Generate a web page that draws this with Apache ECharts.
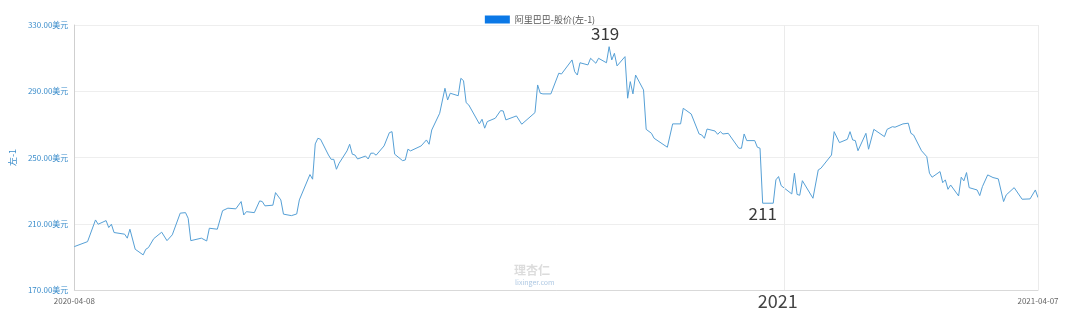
<!DOCTYPE html>
<html>
<head>
<meta charset="utf-8">
<script src="https://cdn.jsdelivr.net/npm/echarts@6/dist/echarts.min.js"></script>
<style>
  html, body { margin: 0; padding: 0; background: #fff; }
  #chart { width: 1080px; height: 323px; }
</style>
</head>
<body>
<div id="chart"></div>
<script>
// ---- data ----
const seriesName = '阿里巴巴-股价(左-1)';
const axisName = '左-1';
const unit = '美元';
const yTicks = [170, 210, 250, 290, 330];
const xStart = '2020-04-08';
const xEnd = '2021-04-07';
const yearMark = '2021-01-01';
const yearLabel = '2021';
const peakNote = '319';
const peakDate = '2020-10-27';
const lowNote = '211';
const lowDate = '2020-12-24';

const dates = [
  '2020-04-08','2020-04-13','2020-04-16','2020-04-17','2020-04-20','2020-04-21','2020-04-22','2020-04-23','2020-04-27','2020-04-28','2020-04-29',
  '2020-05-01','2020-05-04','2020-05-05','2020-05-06','2020-05-08','2020-05-11','2020-05-13','2020-05-15','2020-05-18','2020-05-20','2020-05-21','2020-05-22','2020-05-26','2020-05-28','2020-05-29',
  '2020-06-01','2020-06-03','2020-06-05','2020-06-08','2020-06-10','2020-06-11','2020-06-12','2020-06-15','2020-06-17','2020-06-18','2020-06-19','2020-06-22','2020-06-23','2020-06-25','2020-06-26','2020-06-29',
  '2020-07-01','2020-07-02','2020-07-06','2020-07-07','2020-07-08','2020-07-09','2020-07-10','2020-07-13','2020-07-14','2020-07-15','2020-07-16','2020-07-17','2020-07-20','2020-07-21','2020-07-22','2020-07-23','2020-07-24','2020-07-27','2020-07-28','2020-07-29','2020-07-30','2020-07-31',
  '2020-08-03','2020-08-05','2020-08-06','2020-08-07','2020-08-10','2020-08-11','2020-08-12','2020-08-13','2020-08-17','2020-08-19','2020-08-20','2020-08-21','2020-08-24','2020-08-26','2020-08-27','2020-08-28','2020-08-31',
  '2020-09-01','2020-09-02','2020-09-03','2020-09-04','2020-09-08','2020-09-09','2020-09-10','2020-09-11','2020-09-14','2020-09-16','2020-09-17','2020-09-18','2020-09-22','2020-09-24','2020-09-29','2020-09-30',
  '2020-10-01','2020-10-02','2020-10-05','2020-10-08','2020-10-09','2020-10-13','2020-10-14','2020-10-15','2020-10-16','2020-10-19','2020-10-20','2020-10-22','2020-10-23','2020-10-26','2020-10-27','2020-10-28','2020-10-29','2020-10-30',
  '2020-11-02','2020-11-03','2020-11-04','2020-11-05','2020-11-06','2020-11-09','2020-11-10','2020-11-12','2020-11-13','2020-11-18','2020-11-20','2020-11-23','2020-11-24','2020-11-27','2020-11-30',
  '2020-12-01','2020-12-02','2020-12-03','2020-12-06','2020-12-07','2020-12-08','2020-12-09','2020-12-11','2020-12-15','2020-12-16','2020-12-17','2020-12-18','2020-12-21','2020-12-22','2020-12-23','2020-12-24','2020-12-28','2020-12-29','2020-12-30','2020-12-31',
  '2021-01-04','2021-01-05','2021-01-06','2021-01-07','2021-01-08','2021-01-12','2021-01-14','2021-01-15','2021-01-19','2021-01-20','2021-01-22','2021-01-25','2021-01-26','2021-01-27','2021-01-28','2021-01-29',
  '2021-02-01','2021-02-02','2021-02-04','2021-02-08','2021-02-09','2021-02-11','2021-02-12','2021-02-15','2021-02-17','2021-02-18','2021-02-19','2021-02-22','2021-02-24','2021-02-25','2021-02-26',
  '2021-03-01','2021-03-02','2021-03-03','2021-03-04','2021-03-05','2021-03-08','2021-03-09','2021-03-10','2021-03-11','2021-03-12','2021-03-15','2021-03-16','2021-03-17','2021-03-19','2021-03-21','2021-03-23','2021-03-25','2021-03-26','2021-03-29',
  '2021-04-01','2021-04-04','2021-04-06','2021-04-07'
];
const prices = [
  196.2,199.2,212.3,209.7,211.9,207.7,209.7,204.7,203.7,201.3,206.7,
  194.6,191.2,194.6,195.6,201.0,204.9,199.8,203.3,216.4,216.7,213.3,199.8,201.3,199.6,207.3,
  206.7,217.9,219.4,219.0,223.4,215.3,217.3,216.7,223.8,223.4,220.8,221.2,228.8,224.4,215.8,214.9,
  215.9,224.4,239.7,236.9,258.2,261.6,261.0,251.5,248.9,248.9,242.9,246.5,254.0,258.0,252.0,251.5,249.1,250.9,249.1,252.6,252.6,251.4,
  257.0,265.0,265.6,252.0,248.1,248.5,255.0,254.0,257.0,260.6,258.0,266.6,276.7,291.8,284.7,288.8,287.3,
  297.8,296.4,283.1,281.7,270.3,273.1,267.7,271.7,273.7,278.3,278.1,272.7,275.1,270.1,277.1,293.8,
  288.8,288.4,288.4,300.9,300.4,308.9,301.8,299.8,307.2,305.9,309.9,306.9,309.9,307.2,316.9,308.9,312.9,305.3,
  310.9,285.8,295.8,288.4,299.8,290.8,267.0,264.6,261.6,256.2,270.3,270.3,279.7,276.3,264.2,
  263.6,261.6,267.2,266.0,264.0,265.6,264.2,264.6,255.6,255.6,264.2,260.2,260.2,256.2,255.6,222.4,222.4,236.5,238.5,233.0,
  228.0,240.5,227.7,227.2,236.0,225.4,242.5,243.5,251.5,265.6,259.0,261.0,265.6,260.6,260.2,254.1,
  264.6,255.0,267.0,262.6,267.0,268.6,268.3,270.3,270.7,264.6,263.6,254.1,250.5,240.5,238.1,
  241.5,234.8,236.5,230.8,233.4,226.8,238.1,235.9,240.9,231.8,230.4,227.0,232.4,239.5,237.9,237.1,223.4,227.4,231.8,
  224.8,225.0,230.4,225.8
];

// ---- chart ----
const chart = echarts.init(document.getElementById('chart'), null, { renderer: 'canvas' });
const font = '"Noto Sans CJK SC", "Noto Sans", sans-serif';
const ts = s => Date.UTC(+s.slice(0, 4), +s.slice(5, 7) - 1, +s.slice(8, 10));
const xMin = ts(xStart), xMax = ts(xEnd), xYear = ts(yearMark);
const fmtDate = v => {
  const d = new Date(v);
  const p = n => String(n).padStart(2, '0');
  return d.getUTCFullYear() + '-' + p(d.getUTCMonth() + 1) + '-' + p(d.getUTCDate());
};
const at = d => [ts(d), prices[dates.indexOf(d)]];

chart.setOption({
  animation: false,
  backgroundColor: '#ffffff',
  textStyle: { fontFamily: font },
  legend: {
    top: 10,
    left: 'center',
    itemWidth: 25,
    itemHeight: 8,
    itemGap: 10,
    icon: 'rect',
    data: [{ name: seriesName, icon: 'rect', itemStyle: { color: '#0b78e6' } }],
    textStyle: { fontSize: 9, color: '#555', fontFamily: font }
  },
  grid: { left: 73, right: 42, top: 25, bottom: 33, containLabel: false },
  xAxis: {
    type: 'value',
    min: xMin,
    max: xMax,
    scale: true,
    axisLine: { show: true, lineStyle: { color: '#d9d9d9' } },
    axisTick: { show: false },
    splitLine: { show: false },
    axisLabel: {
      customValues: [xMin, xYear, xMax],
      showMinLabel: true,
      showMaxLabel: true,
      hideOverlap: false,
      margin: 6,
      formatter: function (v) {
        if (Math.abs(v - xYear) < 86400000) return '{big|' + yearLabel + '}';
        return '{small|' + fmtDate(v) + '}';
      },
      rich: {
        small: { fontSize: 8, lineHeight: 10, color: '#666', fontFamily: font },
        big: { fontSize: 18, lineHeight: 10, color: '#444', fontFamily: font, padding: [0, 12, 0, 0] }
      }
    }
  },
  yAxis: {
    type: 'value',
    min: yTicks[0],
    max: yTicks[yTicks.length - 1],
    interval: yTicks[1] - yTicks[0],
    name: axisName,
    nameLocation: 'middle',
    nameGap: 54,
    nameTextStyle: { color: '#3b8dcb', fontSize: 9, fontFamily: font },
    axisLine: { show: true, lineStyle: { color: '#cfcfcf' } },
    axisTick: { show: false },
    splitLine: { show: true, lineStyle: { color: '#eeeeee' } },
    axisLabel: {
      color: '#3b8dcb',
      fontSize: 8,
      margin: 6,
      fontFamily: font,
      formatter: v => v.toFixed(2) + unit
    }
  },
  graphic: [
    {
      type: 'group',
      left: 514,
      top: 264,
      silent: true,
      children: [
        { type: 'text', left: 0, top: 0, style: { text: '理杏仁', fontSize: 12, fill: 'rgba(130,130,130,0.28)', fontFamily: font, fontWeight: 'bold' } },
        { type: 'text', left: 1, top: 15, style: { text: 'lixinger.com', fontSize: 7, fill: 'rgba(70,130,190,0.45)', fontFamily: font } }
      ]
    }
  ],
  series: [{
    name: seriesName,
    type: 'line',
    data: dates.map((d, i) => [ts(d), prices[i]]),
    showSymbol: false,
    symbol: 'none',
    itemStyle: { color: '#0b78e6' },
    lineStyle: { color: '#56a0d6', width: 1 },
    markLine: {
      silent: true,
      symbol: ['none', 'none'],
      label: { show: false },
      lineStyle: { color: '#ebebeb', type: 'solid', width: 1 },
      data: [{ xAxis: xYear }, { xAxis: xMax }]
    },
    markPoint: {
      silent: true,
      symbol: 'circle',
      symbolSize: 0,
      data: [
        { coord: at(peakDate), label: { show: true, position: 'top', distance: 5, offset: [-4, 0], formatter: () => peakNote } },
        { coord: at(lowDate), label: { show: true, position: 'bottom', distance: 2, formatter: () => lowNote } }
      ],
      label: { fontSize: 17, color: '#3a3a3a', fontFamily: font }
    }
  }]
});
</script>
</body>
</html>
